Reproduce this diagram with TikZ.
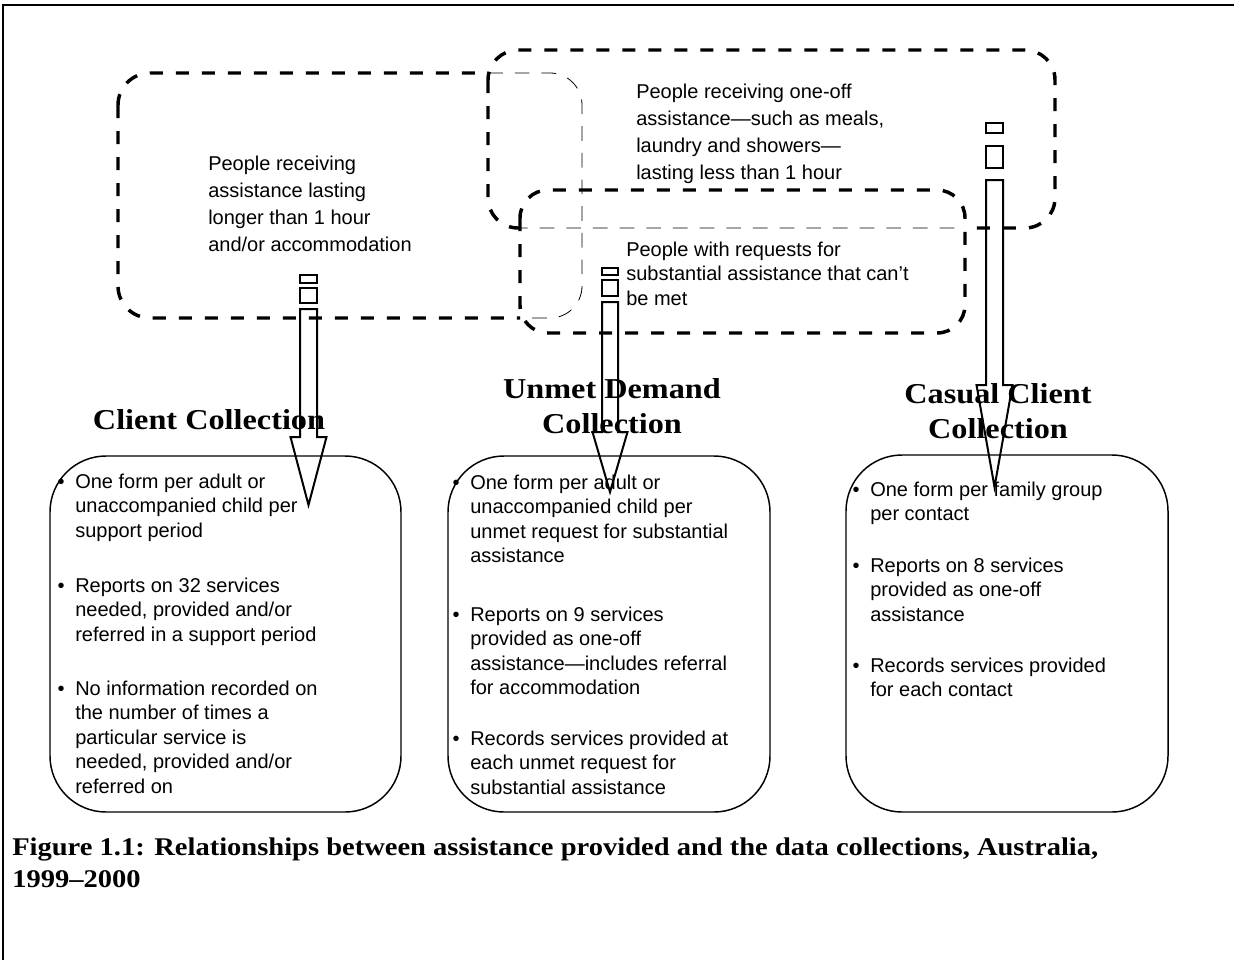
\documentclass[tikz,border=0pt]{standalone}
\usepackage{fontspec}
\setmainfont{Liberation Sans}
\newfontfamily\headfont[FakeStretch=1.12]{Liberation Serif}
\tikzset{
 thickdash/.style={line width=2.6pt, dash pattern=on 9.75pt off 9.75pt},
 thindash/.style={line width=0.6pt, dash pattern=on 11pt off 9pt},
 arrowline/.style={line width=1.5pt},
 rbox/.style={draw, line width=1.1pt, rounded corners=42pt},
 body/.style={inner sep=0pt, anchor=north west, align=left, font=\fontsize{15}{18.4}\selectfont},
 bodywide/.style={body, font=\fontsize{15}{20.25}\selectfont},
 head/.style={inner sep=0pt, align=center, font=\headfont\bfseries\fontsize{21.6}{26.25}\selectfont},
 capt/.style={inner sep=0pt, anchor=north west, align=left, font=\headfont\bfseries\fontsize{19.1}{24}\selectfont},
}
\newcommand\bul{\llap{\textbullet\hspace{8pt}}}
\newcommand\sarrow[9]{%
 \draw[arrowline] (#1,#3) rectangle (#2,#4);
 \draw[arrowline] (#1,#5) rectangle (#2,#6);
 \draw[arrowline] (#1,#7) -- (#1,#8) -- ({#1-9.5},#8) -- ({(#1+#2)/2},#9) -- ({#2+9.5},#8) -- (#2,#8) -- (#2,#7) -- cycle;
}
\begin{document}
\begin{tikzpicture}[x=0.75pt,y=-0.75pt]
\useasboundingbox (0,0) rectangle (1234,960);
% frame
\draw[line width=1.6pt] (2,5) -- (1234,5);
\draw[line width=0.9pt] (3,5) -- (3,960);

% box A (bottom layer)
\begin{scope}
 \clip (488,50) rectangle (1055,228) (520,190) rectangle (965,333);
 \draw[thindash, rounded corners=24pt] (118,73) rectangle (582,318);
\end{scope}
\begin{scope}[even odd rule]
 \clip (0,0) rectangle (1234,960) (488,50) rectangle (1055,228);
 \clip (0,0) rectangle (1234,960) (520,190) rectangle (965,333);
 \draw[thickdash, rounded corners=24pt] (118,73) rectangle (582,318);
\end{scope}
% box B (middle layer)
\begin{scope}
 \clip (520,190) rectangle (965,333);
 \draw[thindash, rounded corners=22.5pt] (488,50) rectangle (1055,228);
\end{scope}
\begin{scope}[even odd rule]
 \clip (0,0) rectangle (1234,960) (520,190) rectangle (965,333);
 \draw[thickdash, rounded corners=22.5pt] (488,50) rectangle (1055,228);
\end{scope}
% box C (top layer)
\draw[thickdash, rounded corners=21pt] (520,190) rectangle (965,333);

% texts in dashed boxes
\node[bodywide] (ta) at (208,155.5) {People receiving\\assistance lasting\\longer than 1 hour\\and/or accommodation};
\node[bodywide] (tb) at (636,83.5) {People receiving one-off\\assistance\textemdash such as meals,\\laundry and showers\textemdash\\lasting less than 1 hour};
\node[body] (tc) at (626,241.5) {People with requests for\\substantial assistance that can’t\\be met};

% headings
\node[head] (h1) at (209,420) {Client Collection};
\node[head] (h2) at (612,406) {Unmet Demand\\Collection};
\node[head] (h3) at (998,411) {Casual Client\\Collection};

% collection boxes
\draw[rbox] (50,456) rectangle (401,812);
\draw[rbox] (448,456) rectangle (770,812);
\draw[rbox] (846,455) rectangle (1168,812);

% box 1 text
\node[body] (p11) at (75,473.5) {\bul One form per adult or\\unaccompanied child per\\support period};
\node[body] (p12) at (75,577.5) {\bul Reports on 32 services\\needed, provided and/or\\referred in a support period};
\node[body] (p13) at (75,680.5) {\bul No information recorded on\\the number of times a\\particular service is\\needed, provided and/or\\referred on};
% box 2 text
\node[body] (p21) at (470,474.5) {\bul One form per adult or\\unaccompanied child per\\unmet request for substantial\\assistance};
\node[body] (p22) at (470,606.5) {\bul Reports on 9 services\\provided as one-off\\assistance\textemdash includes referral\\for accommodation};
\node[body] (p23) at (470,730.5) {\bul Records services provided at\\each unmet request for\\substantial assistance};
% box 3 text
\node[body] (p31) at (870,481.5) {\bul One form per family group\\per contact};
\node[body] (p32) at (870,557.5) {\bul Reports on 8 services\\provided as one-off\\assistance};
\node[body] (p33) at (870,657.5) {\bul Records services provided\\for each contact};

% striped block arrows
\sarrow{300}{317}{275}{283}{288}{303}{309}{437}{505}
\sarrow{602}{618}{268}{275}{280}{296}{302}{432}{492}
\sarrow{986}{1003}{123}{133}{146}{168}{180}{385}{487}

% caption
\node[capt] (cap) at (12,838) {Figure 1.1: Relationships between assistance provided and the data collections, Australia,\\1999–2000};
\end{tikzpicture}
\end{document}
